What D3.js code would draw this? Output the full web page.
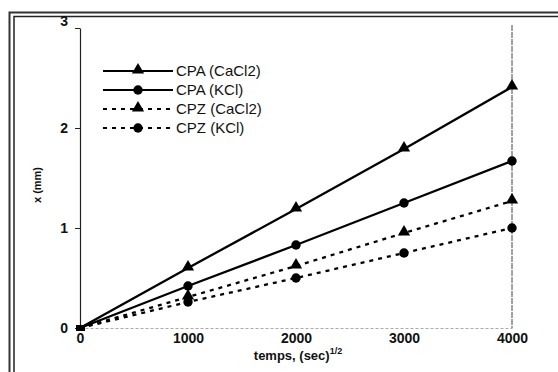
<!DOCTYPE html>
<html>
<head>
<meta charset="utf-8">
<script src="https://cdnjs.cloudflare.com/ajax/libs/d3/7.8.5/d3.min.js"></script>
<style>
  body { margin: 0; background: #fff; }
  text { font-family: "Liberation Sans", Arial, sans-serif; font-weight: bold; fill: #111; }
</style>
</head>
<body>
<script>
// chart values
var times = [0, 1000, 2000, 3000, 4000];
var cpaCaCl2 = [0, 0.60, 1.19, 1.79, 2.41];
var cpaKCl = [0, 0.42, 0.83, 1.25, 1.67];
var cpzCaCl2 = [0, 0.31, 0.62, 0.95, 1.27];
var cpzKCl = [0, 0.26, 0.50, 0.75, 1.00];
var seriesNames = ["CPA (CaCl2)", "CPA (KCl)", "CPZ (CaCl2)", "CPZ (KCl)"];
var xTicks = [0, 1000, 2000, 3000, 4000];
var yTicks = [0, 1, 2, 3];

var width = 558,
	height = 372;

var svg = d3.select('body').append('svg')
	.attr('width', width)
	.attr('height', height);

// double frame (runs off the right and bottom edges)
svg.append('rect')
	.attr('x', 9.5).attr('y', 12.5)
	.attr('width', 600).attr('height', 400)
	.attr('fill', 'none').attr('stroke', '#333').attr('stroke-width', 2);
svg.append('rect')
	.attr('x', 14).attr('y', 16.5)
	.attr('width', 600).attr('height', 400)
	.attr('fill', 'none').attr('stroke', '#222').attr('stroke-width', 1.5);

var x = d3.scaleLinear().domain([0, 4000]).range([80, 512]);
var y = d3.scaleLinear().domain([0, 3]).range([328, 28]);

// y axis
var yAxis = svg.append('g')
	.attr('transform', 'translate(' + x(0) + ',0)')
	.call(d3.axisLeft(y).tickValues(yTicks).tickFormat(d3.format('d')).tickSize(5).tickSizeOuter(0));
yAxis.select('.domain').attr('stroke', '#222').attr('stroke-width', 1.2);
yAxis.selectAll('.tick line').attr('stroke', '#222');
yAxis.selectAll('.tick text')
	.attr('x', -12)
	.style('font-size', '14px')
	.style('font-family', '"Liberation Sans", Arial, sans-serif')
	.style('font-weight', 'bold');
yAxis.selectAll('.tick').filter(function(d){ return d === 3; })
	.select('text').attr('dy', '-0.2em');

// x axis (faint dotted baseline)
var xAxis = svg.append('g')
	.attr('transform', 'translate(0,' + y(0) + ')')
	.call(d3.axisBottom(x).tickValues(xTicks).tickFormat(d3.format('d')).tickSize(0).tickPadding(5));
xAxis.select('.domain').attr('stroke', '#aaa').attr('stroke-width', 1).attr('stroke-dasharray', '3,2');
xAxis.selectAll('.tick text')
	.style('font-size', '14px')
	.style('font-family', '"Liberation Sans", Arial, sans-serif')
	.style('font-weight', 'bold');

// vertical line at 4000
svg.append('line')
	.attr('x1', x(4000)).attr('x2', x(4000))
	.attr('y1', 25).attr('y2', y(0))
	.attr('stroke', '#444').attr('stroke-width', 1)
	.attr('stroke-dasharray', '6,1');

// axis titles
svg.append('text')
	.attr('transform', 'translate(41,' + 185 + ') rotate(-90)')
	.attr('text-anchor', 'middle')
	.style('font-size', '11px')
	.text('x (mm)');

var xt = svg.append('text')
	.attr('x', 298).attr('y', 360)
	.attr('text-anchor', 'middle')
	.style('font-size', '13px');
xt.append('tspan').text('temps, (sec)');
xt.append('tspan').attr('dy', -6).style('font-size', '9px').text('1/2');

var series = [
	{ name: seriesNames[0], values: cpaCaCl2, dash: null, shape: 'tri' },
	{ name: seriesNames[1], values: cpaKCl, dash: null, shape: 'circ' },
	{ name: seriesNames[2], values: cpzCaCl2, dash: '4,5', shape: 'tri' },
	{ name: seriesNames[3], values: cpzKCl, dash: '4,5', shape: 'circ' }
];

var line = d3.line()
	.x(function(d){ return x(d[0]); })
	.y(function(d){ return y(d[1]); });

var tri = d3.symbol().type(d3.symbolTriangle).size(65);

function marker(g, shape, cx, cy){
	if (shape === 'tri') {
		g.append('path').attr('d', tri())
			.attr('transform', 'translate(' + cx + ',' + (cy - 1) + ')')
			.attr('fill', '#000');
	} else {
		g.append('circle').attr('cx', cx).attr('cy', cy).attr('r', 4.7).attr('fill', '#000');
	}
}

series.forEach(function(s){
	var pts = times.map(function(t, i){ return [t, s.values[i]]; });
	svg.append('path')
		.datum(pts)
		.attr('d', line)
		.attr('fill', 'none')
		.attr('stroke', '#000')
		.attr('stroke-width', 2.3)
		.attr('stroke-dasharray', s.dash);
	var g = svg.append('g');
	pts.forEach(function(p){
		if (p[0] === 0) {
			g.append('rect').attr('x', x(0) - 4).attr('y', y(0) - 3).attr('width', 9).attr('height', 6).attr('fill', '#000');
		} else {
			marker(g, s.shape, x(p[0]), y(p[1]));
		}
	});
});

// legend
var legendY = [71, 90, 109, 128];
series.forEach(function(s, i){
	var g = svg.append('g');
	g.append('line')
		.attr('x1', 103).attr('x2', 173)
		.attr('y1', legendY[i]).attr('y2', legendY[i])
		.attr('stroke', '#000').attr('stroke-width', 2)
		.attr('stroke-dasharray', s.dash);
	marker(g, s.shape, 138, legendY[i]);
	g.append('text')
		.attr('x', 176).attr('y', legendY[i])
		.attr('dy', '0.36em')
		.style('font-size', '15px')
		.style('font-weight', 'normal')
		.text(s.name);
});
</script>
</body>
</html>
